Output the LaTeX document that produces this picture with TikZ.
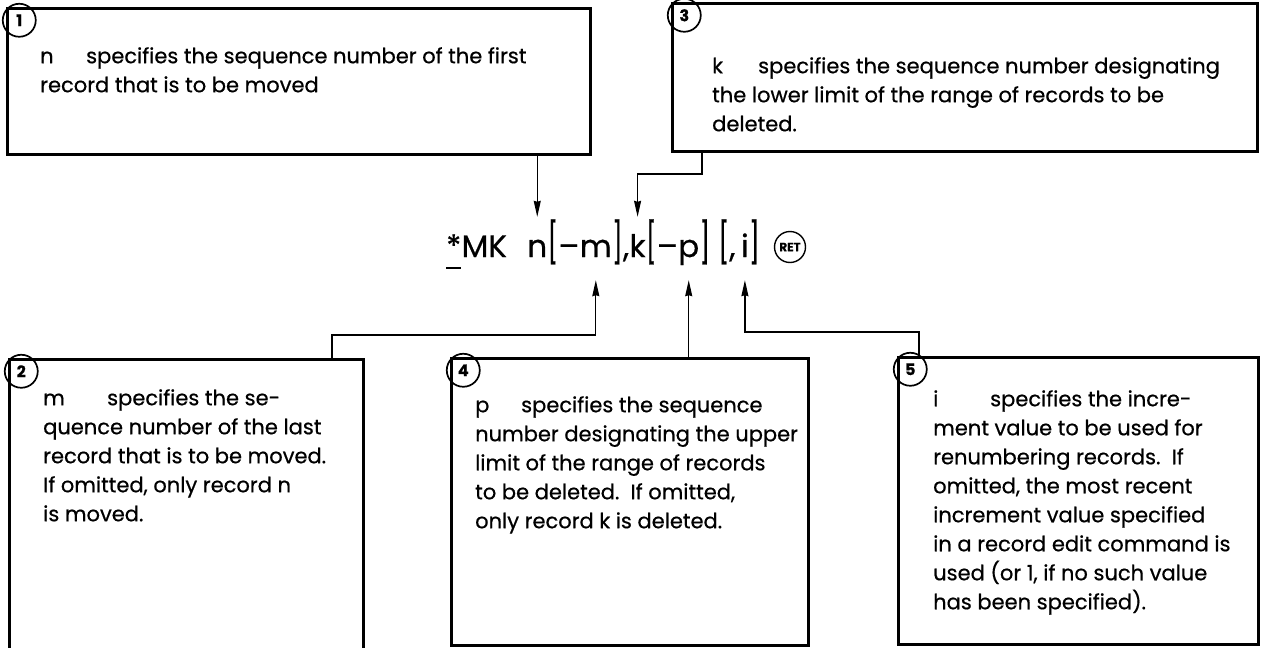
\documentclass[tikz,border=0pt]{standalone}
\usepackage{fontspec}
\setmainfont{Poppins}[Ligatures=NoCommon, FakeBold=0.6]
\usetikzlibrary{arrows.meta,positioning}
\newcommand{\lead}[2][46pt]{\makebox[#1][l]{#2}}
\newcommand{\tallbr}[1]{\scalebox{0.8}[1.3]{#1}}

\begin{document}
\begin{tikzpicture}[x=1pt, y=-1pt,
    box/.style={draw, line width=3pt, anchor=north west, outer sep=0pt, inner sep=0pt},
    num/.style={draw, circle, line width=1.7pt, minimum size=33pt, inner sep=0pt,
      anchor=north west, font=\fontsize{16}{16}\selectfont\bfseries},
    txt/.style={anchor=north west, align=left, inner sep=0pt,
      font=\fontsize{21}{29}\selectfont},
    cmd/.style={anchor=base west, inner sep=0pt, text height=40pt, text depth=23pt,
      font=\fontsize{31}{31}\selectfont},
    arr/.style={line width=1.2pt, -{Stealth[length=16pt, width=7pt, inset=1pt]}}]
  \useasboundingbox (0,0) rectangle (1262,648);

  % boxes along the top
  \node[box, minimum width=583pt, minimum height=146pt] (b1) at (7,8) {};
  \node[box, minimum width=585pt, minimum height=148pt] (b3) at (672,3) {};
  % boxes along the bottom (the left one runs off the page)
  \node[box, minimum width=354pt, minimum height=310pt] (b2) at (9,359) {};
  \node[box, minimum width=357pt, minimum height=287pt] (b4) at (451,358) {};
  \node[box, minimum width=360pt, minimum height=287pt] (b5) at (898,357) {};

  % circled numbers in the corners
  \foreach \b/\k in {b1/1, b2/2, b3/3, b4/4, b5/5}
    \node[num] (n\k) at (\b.north west) {\k};

  % descriptions
  \node[txt] (t1) at ([xshift=33pt, yshift=-39pt]b1.north west)
    {\lead{n}specifies the sequence number of the first\\
     record that is to be moved};
  \node[txt] (t3) at ([xshift=40pt, yshift=-54pt]b3.north west)
    {\lead{k}specifies the sequence number designating\\
     the lower limit of the range of records to be\\
     deleted.};
  \node[txt] (t2) at ([xshift=34pt, yshift=-30pt]b2.north west)
    {\lead[64pt]{m}specifies the se-\\
     quence number of the last\\
     record that is to be moved.\\
     If omitted, only record n\\
     is moved.};
  \node[txt] (t4) at ([xshift=24pt, yshift=-38pt]b4.north west)
    {\lead{p}specifies the sequence\\
     number designating the upper\\
     limit of the range of records\\
     to be deleted.\ \ If omitted,\\
     only record k is deleted.};
  \node[txt] (t5) at ([xshift=35pt, yshift=-33pt]b5.north west)
    {\lead[57pt]{i}specifies the incre-\\
     ment value to be used for\\
     renumbering records.\ \ If\\
     omitted, the most recent\\
     increment value specified\\
     in a record edit command is\\
     used (or 1, if no such value\\
     has been specified).};

  % the command line
  \node[cmd] (star) at (446,257) {*};
  \draw[line width=2.8pt] ([yshift=-11pt]star.base west) -- ([yshift=-11pt]star.base east);
  \node[cmd] (mk) at (star.base east) {MK\kern20pt};
  \foreach \nm/\tx [remember=\nm as \lst (initially mk)] in
      {n/n, lb1/{\tallbr{[}}, d1/\textendash, m/m, rb1/{\tallbr{]}}, c1/{,}, k/k,
       lb2/{\tallbr{[}}, d2/\textendash, p/p, rb2/{\tallbr{]}},
       lb3/{\kern8pt\tallbr{[}}, c2/{,\,}, i/i, rb3/{\tallbr{]}}}
    \node[cmd] (\nm) at (\lst.base east) {\tx};
  \node[draw, circle, line width=1.4pt, minimum size=31pt, inner sep=0pt,
    font=\fontsize{12}{12}\selectfont\bfseries, right=14pt of rb3.base east,
    yshift=10pt] (ret) {RET};

  % connectors
  \coordinate (j3) at (702,174);
  \coordinate (j2) at (332,335);
  \coordinate (j5) at (919,332);
  \draw[arr] (b1.south -| n.north) -- (n.north);
  \draw[arr] (b3.south -| j3) -- (j3) -| (k.north);
  \draw[arr] (b2.north -| j2) -- (j2) -| (m.south);
  \draw[arr] (b4.north -| p.south) -- (p.south);
  \draw[arr] (b5.north -| j5) -- (j5) -| (i.south);
\end{tikzpicture}
\end{document}
